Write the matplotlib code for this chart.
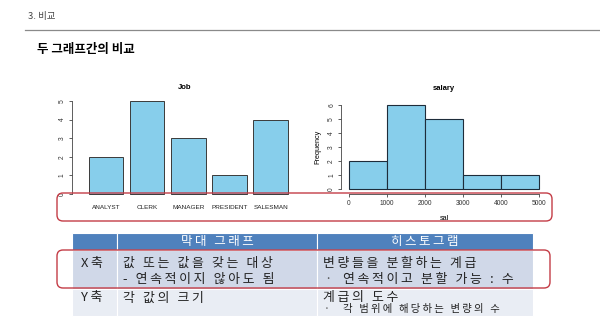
import numpy as np
import matplotlib.pyplot as plt
from matplotlib.patches import FancyBboxPatch, Rectangle

plt.rcParams['font.family'] = ['Liberation Sans', 'Noto Sans CJK KR']
KR = ['Noto Sans CJK KR', 'DejaVu Sans']

W, H = 600, 336

# job counts (bar chart)
jobs = ['ANALYST', 'CLERK', 'MANAGER', 'PRESIDENT', 'SALESMAN']
job_counts = [2, 5, 3, 1, 4]

# salary histogram
sal_edges = [0, 1000, 2000, 3000, 4000, 5000]
sal_freq = [2, 6, 5, 1, 1]

# comparison table
col_heads = ['', '막대 그래프', '히스토그램']
row_heads = ['X축', 'Y축']
bar_desc = [['값 또는 값을 갖는 대상', '- 연속적이지 않아도 됨'],
            ['각 값의 크기']]
hist_desc = [['변량들을 분할하는 계급', '연속적이고 분할 가능 : 수'],
             ['계급의 도수', '각 범위에 해당하는 변량의 수']]


def fbox(x0, y0, x1, y1):
    # pixel box (top-left origin) -> figure fraction
    return [x0 / W, 1 - y1 / H, (x1 - x0) / W, (y1 - y0) / H]


def spaced(s):
    # loose letter spacing, like the slide's table font
    return '\u2009'.join(s)


fig = plt.figure(figsize=(6, 3.36), dpi=100)
fig.patch.set_facecolor('white')

# ---- bar chart ----
ax1 = fig.add_axes(fbox(72, 97.3, 298, 197.7))
pos = 0.7 + 1.2 * np.arange(len(jobs))
ax1.bar(pos, job_counts, width=1, color='#87CEEB', edgecolor='#3a3a3a', linewidth=0.7)
ax1.set_xlim(-0.3, 6.3)
ax1.set_ylim(-0.2, 5.2)
for s in ['top', 'right', 'bottom']:
    ax1.spines[s].set_visible(False)
ax1.spines['left'].set_bounds(0, 5)
ax1.spines['left'].set_linewidth(0.6)
ax1.spines['left'].set_color('#444')
ax1.set_yticks(range(6))
ax1.set_yticklabels([str(i) for i in range(6)], rotation=90, va='center', fontsize=4.8, color='#333')
ax1.tick_params(axis='y', length=2.5, width=0.6, pad=2, color='#444')
ax1.set_xticks(pos)
ax1.set_xticklabels(jobs, fontsize=4.6, color='#222')
ax1.tick_params(axis='x', length=0, pad=5)
ax1.set_title('Job', fontsize=5.5, fontweight='bold', pad=6)
ax1.patch.set_alpha(0)

# ---- histogram ----
ax2 = fig.add_axes(fbox(341.4, 101.6, 546.6, 192.4))
ax2.bar(sal_edges[:-1], sal_freq, width=np.diff(sal_edges), align='edge',
        color='#87CEEB', edgecolor='#1e2c3a', linewidth=0.8)
ax2.set_xlim(-200, 5200)
ax2.set_ylim(-0.24, 6.24)
for s in ['top', 'right']:
    ax2.spines[s].set_visible(False)
ax2.spines['left'].set_bounds(0, 6)
ax2.spines['bottom'].set_bounds(0, 5000)
ax2.spines['bottom'].set_position(('outward', 1))
for s in ['left', 'bottom']:
    ax2.spines[s].set_linewidth(0.6)
    ax2.spines[s].set_color('#444')
ax2.set_yticks(range(7))
ax2.set_yticklabels([str(i) for i in range(7)], rotation=90, va='center', fontsize=4.8, color='#333')
ax2.set_xticks(sal_edges)
ax2.set_xticklabels([str(e) for e in sal_edges], fontsize=4.8, color='#333')
ax2.tick_params(length=2.5, width=0.6, pad=2, color='#444')
ax2.set_xlabel('sal', fontsize=5.2, labelpad=6)
ax2.set_ylabel('Frequency', fontsize=5.2, labelpad=5)
ax2.set_title('salary', fontsize=5.5, fontweight='bold', pad=8)
ax2.patch.set_alpha(0)

# ---- overlay: header, table, highlight boxes ----
ov = fig.add_axes([0, 0, 1, 1], zorder=5)
ov.set_xlim(0, W)
ov.set_ylim(H, 0)
ov.axis('off')
ov.patch.set_alpha(0)

ov.text(28, 17, '3. 비교', family=KR, fontsize=6.8, color='#444', va='center')
ov.plot([25, 600], [30, 30], color='#8a8a8a', lw=0.9)
ov.text(37, 49, '두 그래프간의 비교', family=KR, fontsize=9, fontweight='bold', va='center')

cols = [72, 117, 317, 533]
rows = [233, 250, 289, 316]
fills = ['#4F81BD', '#D0D8E8', '#E9EDF4']
for r in range(3):
    for c in range(3):
        ov.add_patch(Rectangle((cols[c], rows[r]), cols[c + 1] - cols[c], rows[r + 1] - rows[r],
                               facecolor=fills[r], edgecolor='white', lw=0.8))
for c in range(1, 3):
    ov.text((cols[c] + cols[c + 1]) / 2, 241.5, spaced(col_heads[c]), family=KR, fontsize=9,
            color='white', ha='center', va='center')

line_y = [[263.5, 279.5], [298, 309]]
for r in range(2):
    ov.text(81, line_y[r][0], spaced(row_heads[r]), family=KR, fontsize=9.3, color='#222', va='center')
    for i, t in enumerate(bar_desc[r]):
        ov.text(123, line_y[r][i], spaced(t), family=KR, fontsize=9.3, color='#222', va='center')
    ov.text(323, line_y[r][0], spaced(hist_desc[r][0]), family=KR, fontsize=9.3,
            color='#222', va='center')
    sub = 9.3 if r == 0 else 7.5
    ov.text(324, line_y[r][1], '·', family=KR, fontsize=sub, color='#555', va='center')
    ov.text(343, line_y[r][1], spaced(hist_desc[r][1]), family=KR, fontsize=sub,
            color='#222', va='center')

red = '#C43C46'
for (x0, y0, x1, y1) in [(57, 193, 552, 221), (57, 250, 550, 288)]:
    ov.add_patch(FancyBboxPatch((x0, y0), x1 - x0, y1 - y0,
                                boxstyle='round,pad=0,rounding_size=6',
                                facecolor='none', edgecolor=red, lw=1.0))

fig.savefig('out.png', dpi=100)
